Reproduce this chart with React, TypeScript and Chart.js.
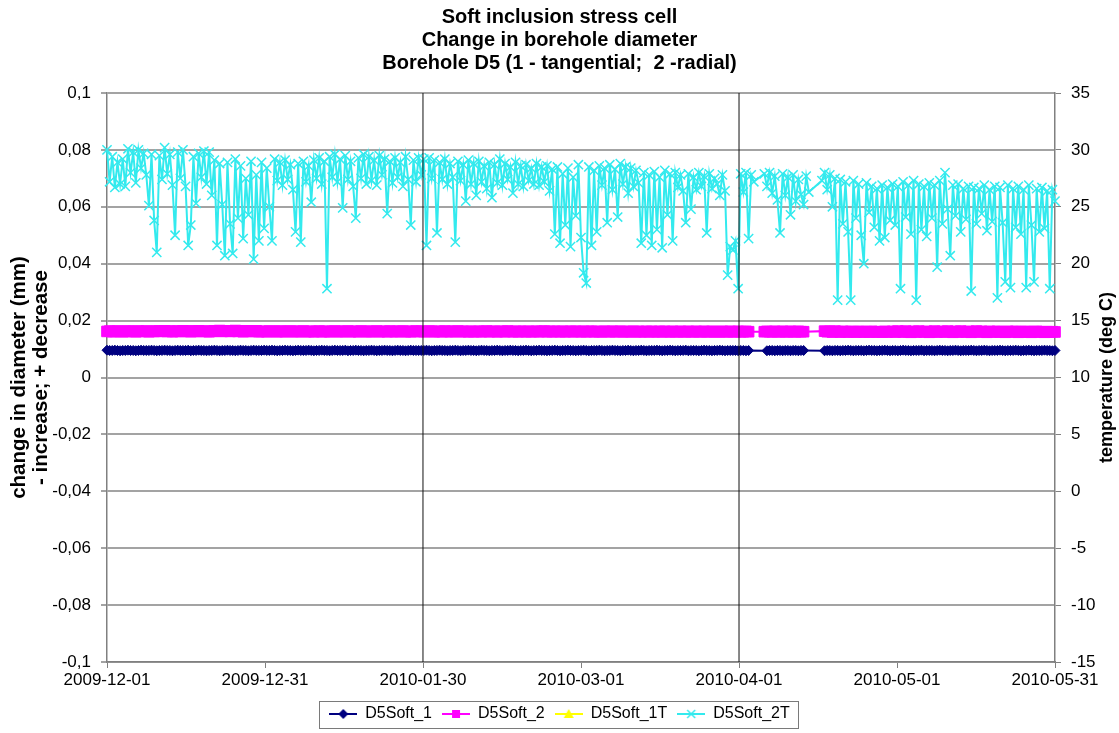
import React, { useEffect, useRef } from 'react';
import { Chart, registerables } from 'chart.js';

Chart.register(...registerables);

// ---------- data ----------
const X_TICK_LABELS = ['2009-12-01', '2009-12-31', '2010-01-30', '2010-03-01', '2010-04-01', '2010-05-01', '2010-05-31'];
const X_SPAN_DAYS = 181;          // 2009-12-01 .. 2010-05-31
const SAMPLE_STEP_DAYS = 0.5;     // readings every half day
const EVENT_DAYS = [60.33, 120.67]; // vertical black marker lines

const SERIES_NAMES = ['D5Soft_1', 'D5Soft_2', 'D5Soft_1T', 'D5Soft_2T'];

// change in diameter (mm) – left axis
const D5SOFT_1: (number | null)[] = [
  0.0096,0.0095,0.0095,0.0096,0.0095,0.0094,0.0095,0.0095,0.0096,0.0095,0.0095,0.0094,0.0095,0.0096,0.0095,0.0095,0.0095,0.0096,0.0095,0.0094,
  0.0095,0.0095,0.0096,0.0095,0.0095,0.0094,0.0095,0.0096,0.0095,0.0095,0.0095,0.0096,0.0094,0.0095,0.0095,0.0096,0.0095,0.0095,0.0094,0.0095,
  0.0095,0.0096,0.0095,0.0094,0.0095,0.0095,0.0096,0.0095,0.0095,0.0094,0.0095,0.0096,0.0095,0.0095,0.0094,0.0095,0.0096,0.0095,0.0095,0.0095,
  0.0096,0.0095,0.0095,0.0096,0.0095,0.0094,0.0095,0.0095,0.0096,0.0095,0.0095,0.0094,0.0095,0.0096,0.0095,0.0095,0.0095,0.0096,0.0095,0.0094,
  0.0095,0.0095,0.0096,0.0095,0.0095,0.0094,0.0095,0.0096,0.0095,0.0095,0.0095,0.0096,0.0094,0.0095,0.0095,0.0096,0.0095,0.0095,0.0094,0.0095,
  0.0095,0.0096,0.0095,0.0094,0.0095,0.0095,0.0096,0.0095,0.0095,0.0094,0.0095,0.0096,0.0095,0.0095,0.0094,0.0095,0.0096,0.0095,0.0095,0.0095,
  0.0095,0.0095,0.0096,0.0095,0.0094,0.0095,0.0095,0.0096,0.0095,0.0095,0.0094,0.0095,0.0095,0.0096,0.0095,0.0094,0.0095,0.0095,0.0096,0.0095,
  0.0095,0.0094,0.0095,0.0096,0.0095,0.0095,0.0094,0.0095,0.0095,0.0096,0.0095,0.0094,0.0095,0.0095,0.0096,0.0095,0.0095,0.0094,0.0095,0.0095,
  0.0096,0.0095,0.0094,0.0095,0.0095,0.0096,0.0095,0.0095,0.0094,0.0095,0.0095,0.0096,0.0095,0.0094,0.0095,0.0095,0.0096,0.0095,0.0095,0.0094,
  0.0095,0.0095,0.0096,0.0095,0.0094,0.0095,0.0095,0.0095,0.0096,0.0095,0.0094,0.0095,0.0095,0.0096,0.0095,0.0095,0.0094,0.0095,0.0095,0.0096,
  0.0095,0.0094,0.0095,0.0095,0.0096,0.0095,0.0094,0.0095,0.0095,0.0095,0.0096,0.0095,0.0094,0.0095,0.0095,0.0096,0.0095,0.0094,0.0095,0.0095,
  0.0095,0.0096,0.0094,0.0095,0.0095,0.0095,0.0094,0.0095,0.0096,0.0095,0.0095,0.0094,0.0095,0.0095,0.0096,0.0095,0.0094,0.0095,0.0095,0.0095,
  0.0095,0.0094,0.0095,0.0095,0.0094,0.0095,null,null,null,null,null,null,0.0094,0.0095,0.0095,0.0094,0.0095,0.0095,0.0094,0.0095,
  0.0095,0.0094,0.0095,0.0095,0.0094,0.0095,0.0095,null,null,null,null,null,null,null,0.0094,0.0095,0.0095,0.0094,0.0095,0.0095,
  0.0094,0.0095,0.0095,0.0096,0.0095,0.0094,0.0095,0.0095,0.0095,0.0094,0.0095,0.0096,0.0095,0.0095,0.0094,0.0095,0.0095,0.0096,0.0095,0.0094,
  0.0095,0.0095,0.0094,0.0095,0.0096,0.0095,0.0095,0.0094,0.0095,0.0095,0.0095,0.0096,0.0094,0.0095,0.0095,0.0095,0.0094,0.0095,0.0096,0.0095,
  0.0095,0.0094,0.0095,0.0095,0.0096,0.0095,0.0094,0.0095,0.0095,0.0095,0.0096,0.0095,0.0094,0.0095,0.0095,0.0096,0.0095,0.0094,0.0095,0.0095,
  0.0095,0.0096,0.0095,0.0094,0.0095,0.0095,0.0095,0.0096,0.0095,0.0094,0.0095,0.0095,0.0096,0.0095,0.0094,0.0095,0.0095,0.0095,0.0096,0.0095,
  0.0095,0.0094,0.0095,
];

const D5SOFT_2: (number | null)[] = [
  0.0162,0.0163,0.0161,0.0162,0.0163,0.0162,0.0161,0.0162,0.0163,0.0162,0.0162,0.0161,0.0163,0.0162,0.0162,0.0163,0.0161,0.0162,0.0162,0.0163,
  0.0163,0.0162,0.0164,0.0162,0.0163,0.0161,0.0162,0.0163,0.0162,0.0164,0.0162,0.0163,0.0161,0.0163,0.0162,0.0164,0.0162,0.0163,0.0162,0.0161,
  0.0162,0.0164,0.0163,0.0165,0.0162,0.0163,0.0164,0.0162,0.0163,0.0165,0.0162,0.0163,0.0161,0.0164,0.0162,0.0163,0.0162,0.0164,0.0161,0.0162,
  0.0162,0.0161,0.0163,0.0162,0.0162,0.0161,0.0163,0.0162,0.0161,0.0162,0.0163,0.0162,0.0161,0.0162,0.0162,0.0163,0.0161,0.0162,0.0162,0.0161,
  0.0162,0.0163,0.0161,0.0162,0.0162,0.0161,0.0162,0.0163,0.0162,0.0161,0.0162,0.0162,0.0163,0.0161,0.0162,0.0162,0.0161,0.0163,0.0162,0.0162,
  0.0161,0.0162,0.0162,0.0163,0.0161,0.0162,0.0162,0.0161,0.0163,0.0162,0.0161,0.0162,0.0162,0.0163,0.0161,0.0162,0.0161,0.0162,0.0163,0.0162,
  0.0162,0.0161,0.0162,0.0163,0.0162,0.0161,0.0162,0.0162,0.0161,0.0163,0.0162,0.0161,0.0162,0.0162,0.0163,0.0161,0.0162,0.0162,0.0161,0.0162,
  0.0161,0.0162,0.0162,0.0161,0.0162,0.0163,0.0161,0.0162,0.0162,0.0161,0.0162,0.0162,0.0161,0.0163,0.0162,0.0161,0.0162,0.0161,0.0162,0.0162,
  0.0161,0.0162,0.0161,0.0162,0.0162,0.0161,0.0162,0.0163,0.0161,0.0162,0.0161,0.0162,0.0162,0.0161,0.0162,0.0161,0.0162,0.0162,0.0161,0.0162,
  0.0162,0.0161,0.0162,0.0161,0.0162,0.0162,0.0161,0.0162,0.0161,0.0161,0.0162,0.0162,0.0161,0.0162,0.0161,0.0162,0.0162,0.0161,0.0161,0.0162,
  0.0161,0.0162,0.0161,0.0162,0.0161,0.0161,0.0162,0.0161,0.0162,0.0161,0.0161,0.0162,0.0161,0.0162,0.0161,0.0161,0.0162,0.0161,0.0161,0.0162,
  0.0161,0.0161,0.0162,0.0161,0.0161,0.0162,0.0161,0.0161,0.0162,0.0161,0.0161,0.0162,0.0161,0.0161,0.0161,0.0162,0.0161,0.0161,0.0162,0.0161,
  0.0161,0.0162,0.0161,0.0161,0.0162,0.0161,null,null,null,null,null,0.0161,0.0162,0.0161,0.0161,0.0162,0.0161,0.0161,0.0162,0.0161,
  0.0161,0.0162,0.0161,0.0161,0.0162,0.0161,0.0161,null,null,null,null,null,null,null,0.0163,0.0161,0.0162,0.0160,0.0163,0.0161,
  0.0160,0.0162,0.0161,0.0160,0.0162,0.0161,0.0160,0.0161,0.0162,0.0160,0.0161,0.0160,0.0162,0.0161,0.0160,0.0161,0.0160,0.0162,0.0160,0.0161,
  0.0162,0.0160,0.0163,0.0161,0.0160,0.0163,0.0161,0.0159,0.0162,0.0160,0.0163,0.0161,0.0160,0.0162,0.0159,0.0161,0.0163,0.0160,0.0161,0.0162,
  0.0160,0.0163,0.0161,0.0159,0.0162,0.0160,0.0163,0.0161,0.0160,0.0162,0.0159,0.0161,0.0163,0.0160,0.0162,0.0161,0.0159,0.0162,0.0160,0.0161,
  0.0162,0.0160,0.0161,0.0159,0.0162,0.0160,0.0161,0.0162,0.0159,0.0161,0.0160,0.0162,0.0160,0.0159,0.0161,0.0162,0.0160,0.0161,0.0159,0.0161,
  0.0160,0.0161,0.0160,
];

// temperature (deg C) – right axis
const D5SOFT_1T: (number | null)[] = [];

const D5SOFT_2T: (number | null)[] = [
  30.0,27.2,29.4,26.7,28.9,27.0,29.2,26.8,30.1,28.0,29.8,27.1,30.0,28.4,29.7,27.8,25.1,29.6,23.8,21.0,
  29.5,27.4,30.2,27.9,29.6,26.9,22.5,29.8,27.5,30.0,26.8,21.6,23.4,29.4,25.3,29.7,27.6,29.9,27.0,29.8,
  26.0,29.1,21.6,28.8,25.2,20.7,28.9,23.5,20.9,29.2,24.0,28.6,22.2,27.5,24.3,29.0,20.4,27.8,22.0,28.9,
  23.1,28.4,25.0,22.0,29.2,27.3,28.9,26.9,29.1,27.4,28.7,26.5,22.8,28.8,21.9,29.0,27.2,28.6,25.4,29.1,
  27.5,29.3,27.0,29.0,17.8,29.4,27.6,29.6,27.2,29.2,24.9,29.5,27.4,29.0,26.8,24.0,29.3,27.5,29.6,27.0,
  29.4,27.3,29.1,26.9,29.5,27.8,29.2,24.4,29.0,27.1,29.3,27.6,28.9,26.8,29.4,27.4,23.4,29.1,27.2,29.3,
  27.8,29.2,21.6,29.3,27.5,29.1,22.7,28.9,27.4,29.2,27.0,28.8,27.6,21.9,29.0,27.3,28.7,25.5,29.1,27.0,
  28.8,26.0,29.0,27.2,28.6,26.6,28.9,25.8,28.7,27.1,29.2,26.9,28.8,27.4,28.5,26.2,28.9,27.0,28.6,26.8,
  28.7,27.3,28.4,27.0,28.8,26.9,28.5,27.2,28.6,26.4,28.3,22.6,28.5,21.8,27.9,23.4,28.4,21.5,27.6,24.2,
  28.7,22.3,19.2,18.3,28.5,21.6,28.2,22.8,28.6,26.9,28.4,23.6,28.7,26.5,28.3,24.1,28.8,27.0,28.5,26.2,
  28.4,26.8,28.2,27.1,21.8,28.0,22.5,27.8,21.6,28.1,23.0,27.6,21.4,28.2,24.3,27.9,22.0,28.0,26.7,27.8,
  26.4,23.6,27.9,24.8,27.6,26.5,28.0,26.8,27.7,22.7,27.9,26.6,27.5,27.0,26.0,27.8,26.4,19.0,21.5,21.2,
  22.0,17.8,27.9,26.3,28.0,22.2,27.8,27.2,null,null,null,27.9,26.8,28.0,26.2,27.7,25.6,22.7,27.9,26.0,
  27.6,24.3,27.8,25.5,27.4,26.1,25.2,27.7,26.3,null,null,null,null,27.3,28.0,26.5,27.8,25.0,27.5,16.8,
  27.4,23.5,27.2,22.8,16.8,27.3,24.0,27.0,22.5,20.0,27.1,24.5,26.8,23.2,26.6,22.0,26.9,22.3,26.7,23.8,
  27.0,23.4,26.8,17.8,27.2,24.1,26.9,22.6,27.3,16.8,27.0,23.0,26.8,22.4,27.1,24.0,26.9,19.7,27.3,23.5,
  28.0,24.8,20.7,26.9,24.2,27.0,22.8,26.6,23.9,26.8,17.6,26.7,23.5,26.6,24.4,26.9,22.9,26.5,23.7,26.8,
  17.0,26.7,23.6,18.4,26.9,17.9,26.6,23.2,26.8,22.6,26.5,17.9,26.9,23.4,18.4,26.6,22.8,26.7,23.1,26.4,
  17.8,26.5,25.5,
];

// ---------- styling ----------
const FONT_FAMILY = '"Liberation Sans", Arial, Helvetica, sans-serif';
const NAVY = '#000080';
const MAGENTA = '#ff00ff';
const YELLOW = '#ffff00';
const CYAN = '#33eaee';

function toPoints(values: (number | null)[]) {
  return values.map((v, i) => ({ x: i * SAMPLE_STEP_DAYS, y: v }));
}

function makeIcon(color: string, kind: string) {
  const c = document.createElement('canvas');
  c.width = 28;
  c.height = 14;
  const ctx = c.getContext('2d')!;
  ctx.strokeStyle = color;
  ctx.fillStyle = color;
  ctx.lineWidth = 2;
  ctx.beginPath();
  ctx.moveTo(0, 7);
  ctx.lineTo(28, 7);
  ctx.stroke();
  const cx = 14, cy = 7;
  ctx.beginPath();
  if (kind === 'diamond') {
    ctx.moveTo(cx, cy - 5); ctx.lineTo(cx + 5, cy); ctx.lineTo(cx, cy + 5); ctx.lineTo(cx - 5, cy); ctx.closePath(); ctx.fill();
  } else if (kind === 'square') {
    ctx.rect(cx - 4, cy - 4, 8, 8); ctx.fill();
  } else if (kind === 'triangle') {
    ctx.moveTo(cx, cy - 5); ctx.lineTo(cx + 5, cy + 4); ctx.lineTo(cx - 5, cy + 4); ctx.closePath(); ctx.fill();
  } else {
    ctx.lineWidth = 1.5;
    ctx.moveTo(cx - 4, cy - 4); ctx.lineTo(cx + 4, cy + 4); ctx.moveTo(cx + 4, cy - 4); ctx.lineTo(cx - 4, cy + 4); ctx.stroke();
  }
  return c;
}

const fmtComma = (v: number) => Number(v.toFixed(2)).toString().replace('.', ',');

const decorPlugin = {
  id: 'decor',
  afterDraw(chart: any) {
    const ctx = chart.ctx as CanvasRenderingContext2D;
    const lg = chart.legend;
    if (lg && lg.legendHitBoxes && lg.legendHitBoxes.length) {
      const boxes = lg.legendHitBoxes;
      const l = Math.min(...boxes.map((b: any) => b.left)) - 10;
      const r = Math.max(...boxes.map((b: any) => b.left + b.width)) + 9;
      const t = boxes[0].top - 5;
      const h = boxes[0].height + 11;
      ctx.save();
      ctx.strokeStyle = '#7a7a7a';
      ctx.lineWidth = 1;
      ctx.strokeRect(Math.round(l) + 0.5, Math.round(t) + 0.5, Math.round(r - l), Math.round(h));
      ctx.restore();
    }
    const s = chart.scales.y1;
    const area = chart.chartArea;
    ctx.save();
    ctx.translate(s.right - 12, (area.top + area.bottom) / 2);
    ctx.rotate(-Math.PI / 2);
    ctx.font = `bold 18px ${FONT_FAMILY}`;
    ctx.textAlign = 'center';
    ctx.textBaseline = 'middle';
    ctx.fillStyle = '#000';
    ctx.fillText('temperature (deg C)', 0, 0);
    ctx.restore();
  },
};

export default function App() {
  const ref = useRef<HTMLCanvasElement | null>(null);

  useEffect(() => {
    document.body.style.margin = '0';
    document.body.style.overflow = 'hidden';
    const canvas = ref.current!;
    const icons = [makeIcon(NAVY, 'diamond'), makeIcon(MAGENTA, 'square'), makeIcon(YELLOW, 'triangle'), makeIcon(CYAN, 'cross')];

    const eventSets = EVENT_DAYS.map((d) => ({
      label: 'event',
      data: [{ x: d, y: -0.1 }, { x: d, y: 0.1 }],
      yAxisID: 'y',
      borderColor: '#111',
      borderWidth: 1,
      pointRadius: 0,
      order: -1,
    }));

    const chart = new Chart(canvas, {
      type: 'line',
      data: {
        datasets: [
          {
            label: SERIES_NAMES[0], data: toPoints(D5SOFT_1), yAxisID: 'y',
            borderColor: NAVY, backgroundColor: NAVY, borderWidth: 2,
            pointStyle: 'rectRot', pointRadius: 5, pointBorderWidth: 1, spanGaps: true, clip: false,
          },
          {
            label: SERIES_NAMES[1], data: toPoints(D5SOFT_2), yAxisID: 'y',
            borderColor: MAGENTA, backgroundColor: MAGENTA, borderWidth: 2,
            pointStyle: 'rect', pointRadius: 7.5, pointBorderWidth: 1, spanGaps: true, clip: false,
          },
          {
            label: SERIES_NAMES[2], data: toPoints(D5SOFT_1T), yAxisID: 'y1',
            borderColor: YELLOW, backgroundColor: YELLOW, borderWidth: 2,
            pointStyle: 'triangle', pointRadius: 5, spanGaps: true, clip: false,
          },
          {
            label: SERIES_NAMES[3], data: toPoints(D5SOFT_2T), yAxisID: 'y1',
            borderColor: CYAN, backgroundColor: CYAN, borderWidth: 2,
            pointStyle: 'crossRot', pointRadius: 6.5, pointBorderWidth: 1.5, spanGaps: true, clip: false,
          },
          ...eventSets,
        ] as any,
      },
      options: {
        responsive: false,
        animation: false,
        devicePixelRatio: 1,
        events: [],
        layout: { padding: { left: 0, right: 0, top: 0, bottom: 1 } },
        font: { family: FONT_FAMILY },
        elements: { line: { tension: 0 } },
        scales: {
          x: {
            type: 'linear',
            min: 0,
            max: X_SPAN_DAYS,
            afterBuildTicks: (scale: any) => {
              scale.ticks = X_TICK_LABELS.map((_, i) => ({ value: (i * X_SPAN_DAYS) / (X_TICK_LABELS.length - 1) }));
            },
            afterFit: (scale: any) => { scale.height = 34; },
            ticks: {
              autoSkip: false, maxRotation: 0, minRotation: 0, padding: 2, color: '#000',
              font: { family: FONT_FAMILY, size: 17 },
              callback: (_v: any, i: number) => X_TICK_LABELS[i],
            },
            grid: { drawOnChartArea: false, drawTicks: true, tickLength: 6, color: '#808080', lineWidth: 1 },
            border: { display: true, color: '#808080', width: 1.5 },
          },
          y: {
            type: 'linear', position: 'left', min: -0.1, max: 0.1,
            afterFit: (scale: any) => { scale.width = 107; },
            ticks: {
              stepSize: 0.02, padding: 10, color: '#000',
              font: { family: FONT_FAMILY, size: 17 },
              callback: (v: any) => fmtComma(Number(v)),
            },
            grid: { color: '#a3a3a3', lineWidth: 2, drawTicks: true, tickLength: 6 },
            border: { display: true, color: '#808080', width: 1.5 },
            title: {
              display: true,
              text: ['change in diameter (mm)', '- increase; + decrease'],
              font: { family: FONT_FAMILY, size: 20.5, weight: 'bold', lineHeight: 1.05 },
              color: '#000',
              padding: { top: 9, bottom: 0 },
            },
          },
          y1: {
            type: 'linear', position: 'right', min: -15, max: 35,
            afterFit: (scale: any) => { scale.width = 64; },
            ticks: { stepSize: 5, padding: 10, color: '#000', font: { family: FONT_FAMILY, size: 17 } },
            grid: { drawOnChartArea: false, drawTicks: true, tickLength: 6, color: '#808080' },
            border: { display: true, color: '#808080', width: 1.5 },
          },
        },
        plugins: {
          title: {
            display: true,
            text: ['Soft inclusion stress cell', 'Change in borehole diameter', 'Borehole D5 (1 - tangential;  2 -radial)'],
            font: { family: FONT_FAMILY, size: 20, weight: 'bold', lineHeight: 1.15 },
            color: '#000',
            padding: { top: 6, bottom: 18 },
          },
          legend: {
            position: 'bottom',
            labels: {
              usePointStyle: true,
              pointStyleWidth: 28,
              padding: 10,
              color: '#000',
              font: { family: FONT_FAMILY, size: 16 },
              filter: (item: any) => item.datasetIndex < SERIES_NAMES.length,
              generateLabels: (ch: any) => {
                const items = (Chart.defaults.plugins.legend.labels as any).generateLabels(ch);
                return items
                  .filter((it: any) => it.datasetIndex < SERIES_NAMES.length)
                  .sort((a: any, b: any) => a.datasetIndex - b.datasetIndex)
                  .map((it: any) => ({ ...it, pointStyle: icons[it.datasetIndex] }));
              },
            },
          },
          tooltip: { enabled: false },
        },
      } as any,
      plugins: [decorPlugin],
    });
    return () => chart.destroy();
  }, []);

  return <canvas ref={ref} width={1119} height={733} style={{ display: 'block' }} />;
}
